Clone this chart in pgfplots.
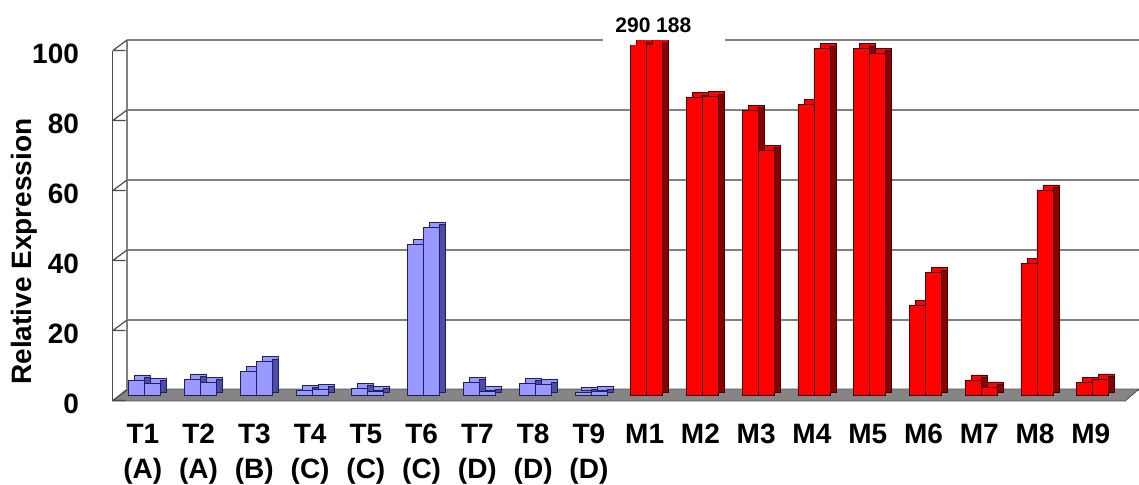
\documentclass[border=0pt]{standalone}
\usepackage{pgfplots}
\usepackage{pgfplotstable}
\pgfplotsset{compat=1.18}
\usepackage{fontspec}
\setmainfont{Liberation Sans}
\definecolor{bfront}{HTML}{9999FF}
\definecolor{bside}{HTML}{4D4DA6}
\definecolor{bedge}{HTML}{202060}
\definecolor{rfront}{HTML}{FF0000}
\definecolor{rside}{HTML}{8A0000}
\definecolor{redge}{HTML}{400000}
\definecolor{gridgray}{HTML}{808080}
\definecolor{floorgray}{HTML}{858585}

\pgfplotstableread{
x a b
0 4.3 3.4
1 4.6 3.7
2 6.8 9.6
3 1.4 1.7
4 2.0 1.1
5 42.9 48.0
6 3.7 0.9
7 3.4 2.9
8 0.8 0.9
}\Tdata
\pgfplotstableread{
x a b
9 290 188
10 84.9 85.3
11 81.4 70.0
12 82.9 98.9
13 98.9 97.7
14 25.7 35.0
15 4.3 2.3
16 37.7 58.6
17 3.7 4.6
}\Mdata

\begin{document}
\begin{tikzpicture}
\path[use as bounding box] (-63.5pt,-44.5pt) rectangle (506pt,197.5pt);
\begin{axis}[
  at={(0,0)}, anchor=south west,
  scale only axis,
  width=506pt, height=175pt,
  xmin=-0.32, xmax=17.83,
  ymin=0, ymax=100,
  clip mode=individual,
  axis line style={draw=none},
  tick style={draw=none},
  ytick={0,20,40,60,80,100},
  xtick={0,...,17},
  xticklabels={{T1\\(A)},{T2\\(A)},{T3\\(B)},{T4\\(C)},{T5\\(C)},{T6\\(C)},{T7\\(D)},{T8\\(D)},{T9\\(D)},M1,M2,M3,M4,M5,M6,M7,M8,M9},
  xticklabel style={font=\bfseries\fontsize{14}{17.5}\selectfont, align=center, yshift=-11pt, xshift=-1pt},
  yticklabel style={font=\bfseries\fontsize{14}{16}\selectfont, xshift=-20.5pt, yshift=-4.25pt},
  /pgf/number format/assume math mode=true,
  ymajorgrids,
  major grid style={line width=0.6pt, color=gridgray, yshift=2.5pt},
  ylabel={Relative Expression},
  ylabel style={at={(axis description cs:-0.102,0.41)}, anchor=center, font=\bfseries\fontsize{14}{16}\selectfont},
]
% floor and walls
\fill[floorgray, draw=floorgray!60!black, line width=0.4pt] (axis cs:-0.574,-1.71) -- (axis cs:17.58,-1.71) -- (axis cs:17.83,1.71) -- (axis cs:-0.32,1.71) -- cycle;
\draw[gridgray, line width=0.6pt] (axis cs:-0.32,1.43) -- (axis cs:-0.32,101.43);
\draw[black!70, line width=0.6pt] (axis cs:-0.574,-1.57) -- (axis cs:-0.574,98.43);
\draw[black!70, line width=0.6pt] (axis cs:-0.574,-1.57) -- (axis cs:-0.32,1.43) (axis cs:-0.574,-1.57) -- ++(-2.5pt,0);
\draw[black!70, line width=0.6pt] (axis cs:-0.574,18.43) -- (axis cs:-0.32,21.43) (axis cs:-0.574,18.43) -- ++(-2.5pt,0);
\draw[black!70, line width=0.6pt] (axis cs:-0.574,38.43) -- (axis cs:-0.32,41.43) (axis cs:-0.574,38.43) -- ++(-2.5pt,0);
\draw[black!70, line width=0.6pt] (axis cs:-0.574,58.43) -- (axis cs:-0.32,61.43) (axis cs:-0.574,58.43) -- ++(-2.5pt,0);
\draw[black!70, line width=0.6pt] (axis cs:-0.574,78.43) -- (axis cs:-0.32,81.43) (axis cs:-0.574,78.43) -- ++(-2.5pt,0);
\draw[black!70, line width=0.6pt] (axis cs:-0.574,98.43) -- (axis cs:-0.32,101.43) (axis cs:-0.574,98.43) -- ++(-2.5pt,0);
% label for off-scale values
\fill[white] (axis cs:8.21,100.5) rectangle (axis cs:10.40,103.2);
\node[font=\bfseries\fontsize{10.5}{12}\selectfont] at (axis cs:9.12,105.6) {290 188};
% ---- T series (blue): depth parts
\addplot[ybar, bar width=8pt, bar shift=7pt, yshift=2.5pt, fill=bfront, draw=bedge, line width=0.4pt] table[x=x,y=b] {\Tdata};
\addplot[ybar, bar width=3pt, bar shift=9.5pt, yshift=1.25pt, fill=bside, draw=bedge, line width=0.4pt] table[x=x,y=b] {\Tdata};
\addplot[ybar, bar width=8pt, bar shift=-1pt, yshift=2.5pt, fill=bfront, draw=bedge, line width=0.4pt] table[x=x,y=a] {\Tdata};
\addplot[ybar, bar width=3pt, bar shift=1.5pt, yshift=1.25pt, fill=bside, draw=bedge, line width=0.4pt] table[x=x,y=a] {\Tdata};
% ---- T fronts
\addplot[ybar, bar width=8pt, bar shift=4pt, fill=bfront, draw=bedge, line width=0.4pt] table[x=x,y=b] {\Tdata};
\addplot[ybar, bar width=8pt, bar shift=-4pt, fill=bfront, draw=bedge, line width=0.4pt] table[x=x,y=a] {\Tdata};
% ---- M series (red): depth parts
\addplot[ybar, bar width=8pt, bar shift=7pt, yshift=2.5pt, fill=rfront, draw=redge, line width=0.4pt] table[x=x,y=b] {\Mdata};
\addplot[ybar, bar width=3pt, bar shift=9.5pt, yshift=1.25pt, fill=rside, draw=redge, line width=0.4pt] table[x=x,y=b] {\Mdata};
\addplot[ybar, bar width=8pt, bar shift=-1pt, yshift=2.5pt, fill=rfront, draw=redge, line width=0.4pt] table[x=x,y=a] {\Mdata};
\addplot[ybar, bar width=3pt, bar shift=1.5pt, yshift=1.25pt, fill=rside, draw=redge, line width=0.4pt] table[x=x,y=a] {\Mdata};
% ---- M fronts
\addplot[ybar, bar width=8pt, bar shift=4pt, fill=rfront, draw=redge, line width=0.4pt] table[x=x,y=b] {\Mdata};
\addplot[ybar, bar width=8pt, bar shift=-4pt, fill=rfront, draw=redge, line width=0.4pt] table[x=x,y=a] {\Mdata};
\end{axis}
\end{tikzpicture}
\end{document}
